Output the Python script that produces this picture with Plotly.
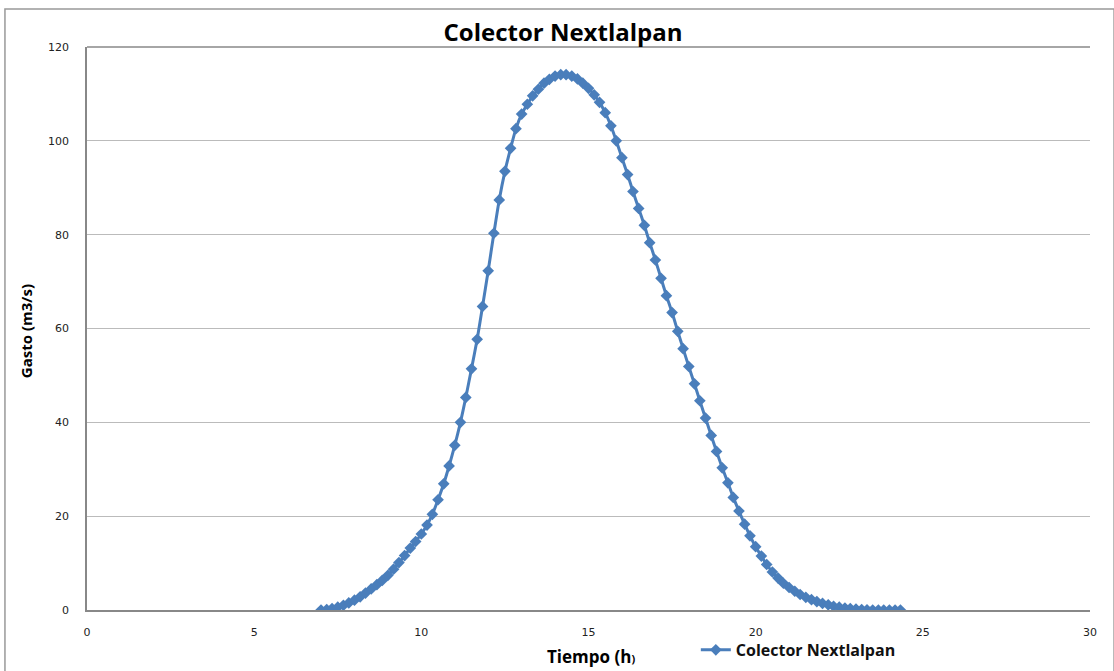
import plotly.graph_objects as go

# Tiempo (h), 10-minute steps
tiempo = [
    7.00, 7.17, 7.33, 7.50, 7.67, 7.83, 8.00, 8.17, 8.33, 8.50, 8.67, 8.83,
    9.00, 9.17, 9.33, 9.50, 9.67, 9.83, 10.00, 10.17, 10.33, 10.50, 10.67, 10.83,
    11.00, 11.17, 11.33, 11.50, 11.67, 11.83, 12.00, 12.17, 12.33, 12.50, 12.67, 12.83,
    13.00, 13.17, 13.33, 13.50, 13.67, 13.83, 14.00, 14.17, 14.33, 14.50, 14.67, 14.83,
    15.00, 15.17, 15.33, 15.50, 15.67, 15.83, 16.00, 16.17, 16.33, 16.50, 16.67, 16.83,
    17.00, 17.17, 17.33, 17.50, 17.67, 17.83, 18.00, 18.17, 18.33, 18.50, 18.67, 18.83,
    19.00, 19.17, 19.33, 19.50, 19.67, 19.83, 20.00, 20.17, 20.33, 20.50, 20.67, 20.83,
    21.00, 21.17, 21.33, 21.50, 21.67, 21.83, 22.00, 22.17, 22.33, 22.50, 22.67, 22.83,
    23.00, 23.17, 23.33, 23.50, 23.67, 23.83, 24.00, 24.17, 24.33,
]

# Gasto (m3/s)
gasto = [
    0.0, 0.1, 0.3, 0.6, 1.0, 1.5, 2.1, 2.8, 3.6, 4.5, 5.4, 6.3,
    7.4, 8.7, 10.1, 11.6, 13.2, 14.6, 16.2, 18.1, 20.4, 23.5, 26.9, 30.7,
    35.1, 40.0, 45.3, 51.4, 57.7, 64.7, 72.3, 80.3, 87.4, 93.5, 98.4, 102.6,
    105.7, 107.8, 109.6, 111.0, 112.3, 113.1, 113.8, 114.1, 114.1, 113.8, 113.2, 112.3,
    111.2, 109.8, 108.2, 106.0, 103.2, 100.0, 96.4, 92.8, 89.2, 85.6, 82.0, 78.3,
    74.6, 70.7, 67.0, 63.4, 59.4, 55.7, 51.9, 48.2, 44.6, 40.9, 37.2, 33.8,
    30.3, 27.1, 24.0, 21.1, 18.3, 15.8, 13.5, 11.5, 9.7, 8.1, 6.8, 5.7,
    4.8, 4.0, 3.3, 2.7, 2.2, 1.8, 1.4, 1.1, 0.8, 0.6, 0.4, 0.3,
    0.2, 0.1, 0.05, 0.0, 0.0, 0.0, 0.0, 0.0, 0.0,
]

serie = "Colector Nextlalpan"
x_ticks = [0, 5, 10, 15, 20, 25, 30]
y_ticks = [0, 20, 40, 60, 80, 100, 120]

azul = "#4a7ebb"
tick_font = dict(family="DejaVu Sans", size=11, color="#222222")
bold_font = "Open Sans"

fig = go.Figure()
fig.add_trace(go.Scatter(
    x=tiempo, y=gasto, name="<b>" + serie + "</b>", mode="lines+markers",
    line=dict(color=azul, width=3, shape="spline", smoothing=0.6),
    marker=dict(symbol="diamond", size=9, color=azul),
))

fig.update_layout(
    width=1114, height=671,
    margin=dict(l=87, r=24, t=47, b=61, autoexpand=False),
    paper_bgcolor="white", plot_bgcolor="white",
    showlegend=True,
    legend=dict(
        orientation="h", x=0.607, y=-0.071, xanchor="left", yanchor="middle",
        font=dict(family=bold_font, size=16, color="#111111"),
        bgcolor="rgba(0,0,0,0)", itemwidth=30,
    ),
    xaxis=dict(
        range=[0, 30], tickvals=x_ticks, ticktext=[str(v) for v in x_ticks],
        showgrid=False, zeroline=False, showline=True, linecolor="#888888",
        linewidth=1.5, ticks="", tickfont=tick_font, ticklabelstandoff=11,
    ),
    yaxis=dict(
        range=[0, 120], tickvals=y_ticks, ticktext=[str(v) for v in y_ticks],
        showgrid=True, gridcolor="#bbbbbb", gridwidth=1, zeroline=False,
        showline=True, linecolor="#888888", linewidth=1.5, ticks="",
        tickfont=tick_font, ticklabelstandoff=14,
    ),
    title=dict(
        text="<b>Colector Nextlalpan</b>", x=0.4746, xref="paper", xanchor="center",
        y=0.952, yref="container", yanchor="middle",
        font=dict(family=bold_font, size=24, color="#000000"),
    ),
)

# grid line across the top edge of the plotting area
fig.add_shape(type="line", xref="paper", yref="paper", x0=0, x1=1, y0=1, y1=1,
              line=dict(color="#888888", width=1.5))

# outer chart frame
fig.add_shape(type="rect", xref="paper", yref="paper",
              x0=-0.0818, x1=1.024, y0=-0.12, y1=1.0675,
              line=dict(color="#999999", width=1.5), layer="below")

fig.add_annotation(
    text="<b>Gasto (m3/s)</b>", textangle=-90, xref="paper", yref="paper",
    x=-0.061, y=0.495, xanchor="center", yanchor="middle", showarrow=False,
    font=dict(family=bold_font, size=15, color="#000000"),
)
fig.add_annotation(
    text="<b>Tiempo (h</b><span style='font-size:11px'><b>)</b></span>",
    xref="paper", yref="paper", x=0.502, y=-0.083, xanchor="center",
    yanchor="middle", showarrow=False,
    font=dict(family=bold_font, size=17, color="#000000"),
)

fig.write_html("out.html")
